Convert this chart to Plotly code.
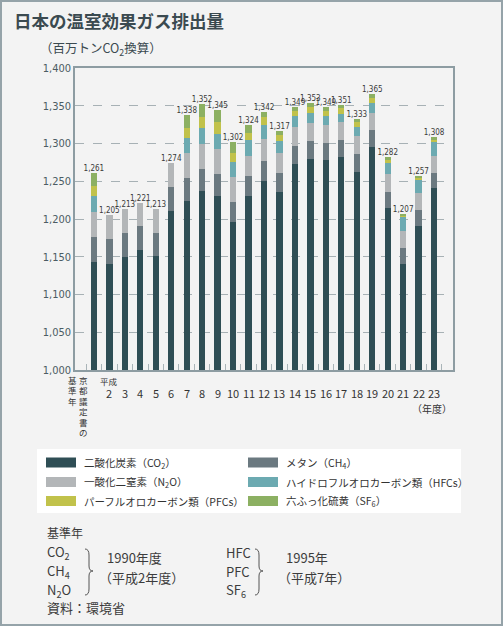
import plotly.graph_objects as go

# ---------------- data ----------------
categories = ["京都議定書の基準年", "平成2年度", "平成3年度", "平成4年度", "平成5年度", "平成6年度",
              "平成7年度", "平成8年度", "平成9年度", "平成10年度", "平成11年度", "平成12年度",
              "平成13年度", "平成14年度", "平成15年度", "平成16年度", "平成17年度", "平成18年度",
              "平成19年度", "平成20年度", "平成21年度", "平成22年度", "平成23年度"]
tick_labels = ["", "2", "3", "4", "5", "6", "7", "8", "9", "10", "11", "12",
               "13", "14", "15", "16", "17", "18", "19", "20", "21", "22", "23"]
co2 = [1143, 1141, 1150, 1159, 1151, 1211, 1224, 1237, 1231, 1196, 1231, 1251,
       1236, 1273, 1279, 1278, 1282, 1262, 1296, 1214, 1141, 1191, 1241]
ch4 = [33, 32, 32, 32, 31, 32, 30, 29, 28, 27, 26, 26,
       25, 24, 24, 23, 22.5, 23.5, 22, 22, 21, 21, 20]
n2o = [33, 32, 31, 30, 31, 31, 33, 34, 34, 33, 26, 29,
       26, 25, 24, 24, 23.5, 24, 23, 23, 22.5, 22, 22]
hfc = [21, 0, 0, 0, 0, 0, 20.5, 20, 20, 19, 21, 19,
       16, 14, 14, 12, 11.5, 12.5, 13, 15, 17.5, 18.5, 20]
pfc = [14, 0, 0, 0, 0, 0, 13.5, 15, 16, 13, 10, 10.5,
       8, 7, 7, 6.5, 7.5, 7, 6, 4.5, 3, 2.5, 2.5]
sf6 = [17, 0, 0, 0, 0, 0, 17, 17, 16, 14, 10, 6.5,
       6, 6, 5, 5.5, 4, 4, 5, 3.5, 2, 2, 2.5]
totals = [1261, 1205, 1213, 1221, 1213, 1274, 1338, 1352, 1345, 1302, 1324, 1342,
          1317, 1349, 1353, 1349, 1351, 1333, 1365, 1282, 1207, 1257, 1308]
y_ticks = [1000, 1050, 1100, 1150, 1200, 1250, 1300, 1350, 1400]

series_names = ["二酸化炭素（CO<sub>2</sub>）", "メタン（CH<sub>4</sub>）",
                "一酸化二窒素（N<sub>2</sub>O）", "ハイドロフルオロカーボン類（HFCs）",
                "パーフルオロカーボン類（PFCs）", "六ふっ化硫黄（SF<sub>6</sub>）"]
series_values = [co2, ch4, n2o, hfc, pfc, sf6]
series_colors = ["#2f4e55", "#6b7980", "#b3b6b8", "#6caab1", "#c1c24b", "#8cb062"]

# ---------------- figure ----------------
W, H = 503, 626
L, R, T, B = 75, 50, 68, 256
PW, PH = W - L - R, H - T - B


def px(x):
    return (x - L) / PW


def py(y):
    return (H - B - y) / PH


CJK = "Noto Sans CJK JP, Noto Sans, sans-serif"
NARROW = "Liberation Sans Narrow, Arial Narrow, DejaVu Sans Condensed, sans-serif"

fig = go.Figure()
for name, vals, col in zip(series_names, series_values, series_colors):
    fig.add_trace(go.Bar(x=categories, y=vals, name=name, marker_color=col,
                         marker_line_width=0, showlegend=False,
                         hoverinfo="x+y+name"))

fig.add_trace(go.Scatter(x=categories, y=totals, mode="text",
                         text=[f"{v:,}" for v in totals], textposition="top center",
                         textfont=dict(family=NARROW, size=8, color="#3a3a3a"),
                         showlegend=False, cliponaxis=False, hoverinfo="skip"))

annotations = []
shapes = []

# Panel border
shapes.append(dict(type="rect", xref="paper", yref="paper",
                   x0=px(1), x1=px(502), y0=py(625), y1=py(1),
                   line=dict(color="#95a3a9", width=2), layer="below"))

# Title and unit
annotations.append(dict(text="日本の温室効果ガス排出量", xref="paper", yref="paper",
                        x=px(12), y=py(20), xanchor="left", yanchor="middle",
                        showarrow=False,
                        font=dict(family=CJK, size=17.5, color="#3b4a50", weight="bold")))
annotations.append(dict(text="（百万トンCO<sub>2</sub>換算）", xref="paper", yref="paper",
                        x=px(38), y=py(48), xanchor="left", yanchor="middle",
                        showarrow=False, font=dict(family=CJK, size=12.5, color="#3b4a50")))

# X labels
for i, lab in enumerate(tick_labels):
    if not lab:
        continue
    annotations.append(dict(text=lab, xref="x", yref="paper", x=i, y=py(393),
                            xanchor="center", yanchor="middle", showarrow=False,
                            font=dict(family=CJK, size=11, color="#333333")))
annotations.append(dict(text="平成", xref="x", yref="paper", x=1, y=py(381),
                        xanchor="center", yanchor="middle", showarrow=False,
                        font=dict(family=CJK, size=8.5, color="#333333")))
for j, ch in enumerate("京都議定書の"):
    annotations.append(dict(text=ch, xref="paper", yref="paper", x=px(83), y=py(380 + 10.4 * j),
                            xanchor="center", yanchor="middle", showarrow=False,
                            font=dict(family=CJK, size=8.5, color="#333333")))
for j, ch in enumerate("基準年"):
    annotations.append(dict(text=ch, xref="paper", yref="paper", x=px(72), y=py(380 + 10.4 * j),
                            xanchor="center", yanchor="middle", showarrow=False,
                            font=dict(family=CJK, size=8.5, color="#333333")))
annotations.append(dict(text="（年度）", xref="paper", yref="paper", x=px(454), y=py(408),
                        xanchor="right", yanchor="middle", showarrow=False,
                        font=dict(family=CJK, size=10, color="#333333")))

# Legend box (manual)
shapes.append(dict(type="rect", xref="paper", yref="paper", x0=px(37), x1=px(461),
                   y0=py(513), y1=py(449), fillcolor="#ffffff", line=dict(width=0),
                   layer="below"))
legend_pos = [(46, 462.5), (248, 462.5), (46, 482), (248, 482), (46, 501), (248, 501)]
for (lx, ly), name, col in zip(legend_pos, series_names, series_colors):
    shapes.append(dict(type="rect", xref="paper", yref="paper", x0=px(lx), x1=px(lx + 30),
                       y0=py(ly + 5), y1=py(ly - 5), fillcolor=col, line=dict(width=0)))
    annotations.append(dict(text=name, xref="paper", yref="paper", x=px(lx + 36), y=py(ly),
                            xanchor="left", yanchor="middle", showarrow=False,
                            font=dict(family=CJK, size=10.5, color="#333333")))


def note(text, x, y, size=13):
    annotations.append(dict(text=text, xref="paper", yref="paper", x=px(x), y=py(y),
                            xanchor="left", yanchor="middle", showarrow=False,
                            font=dict(family=CJK, size=size, color="#3c3c3c")))


note("基準年", 45, 532, 12)
note("CO<sub>2</sub>", 45, 552)
note("CH<sub>4</sub>", 45, 571.5)
note("N<sub>2</sub>O", 45, 590)
note("1990年度", 105, 557)
note("（平成2年度）", 97, 577)
note("HFC", 224, 552)
note("PFC", 224, 571.5)
note("SF<sub>6</sub>", 224, 590)
note("1995年", 284, 557)
note("（平成7年）", 276, 577)
note("資料：環境省", 45, 607)


def brace(x0, xm, xt, ytop, ymid, ybot):
    pts = [(x0, ytop), (xm, ytop), (xm, ytop + 6), (xm, ymid - 5), (xm, ymid), (xt, ymid),
           (xm, ymid), (xm, ymid + 5), (xm, ybot - 6), (xm, ybot), (x0, ybot)]
    p = [(px(a), py(b)) for a, b in pts]
    path = (f"M {p[0][0]},{p[0][1]} Q {p[1][0]},{p[1][1]} {p[2][0]},{p[2][1]} "
            f"L {p[3][0]},{p[3][1]} Q {p[4][0]},{p[4][1]} {p[5][0]},{p[5][1]} "
            f"Q {p[6][0]},{p[6][1]} {p[7][0]},{p[7][1]} L {p[8][0]},{p[8][1]} "
            f"Q {p[9][0]},{p[9][1]} {p[10][0]},{p[10][1]}")
    shapes.append(dict(type="path", xref="paper", yref="paper", path=path,
                       line=dict(color="#555555", width=1)))


brace(85, 89, 93, 549, 571, 595)
brace(255, 259, 263, 549, 571, 595)

fig.update_layout(
    width=W, height=H,
    margin=dict(l=L, r=R, t=T, b=B, pad=0),
    paper_bgcolor="#f3f3f3", plot_bgcolor="#f3f3f3",
    barmode="stack", bargap=0.59,
    showlegend=False,
    annotations=annotations, shapes=shapes,
    xaxis=dict(type="category", showticklabels=False, ticks="inside", ticklen=6,
               tickson="boundaries", tickcolor="#a9b4b8", showline=True,
               linecolor="#8d9ca2", linewidth=1.5, mirror=True, showgrid=False,
               fixedrange=True),
    yaxis=dict(range=[1000, 1400], tickvals=y_ticks,
               ticktext=[f"{v:,}" for v in y_ticks], showline=True,
               linecolor="#8d9ca2", linewidth=1.5, mirror=True, showgrid=True,
               gridcolor="#a7b1b5", griddash="dash", gridwidth=1, ticks="",
               zeroline=False,
               tickfont=dict(family=NARROW, size=11, color="#4b5c63"),
               fixedrange=True),
)

fig.write_html("out.html", config={"displayModeBar": False},
               post_script="document.body.style.margin='0';document.body.style.overflow='hidden';")
